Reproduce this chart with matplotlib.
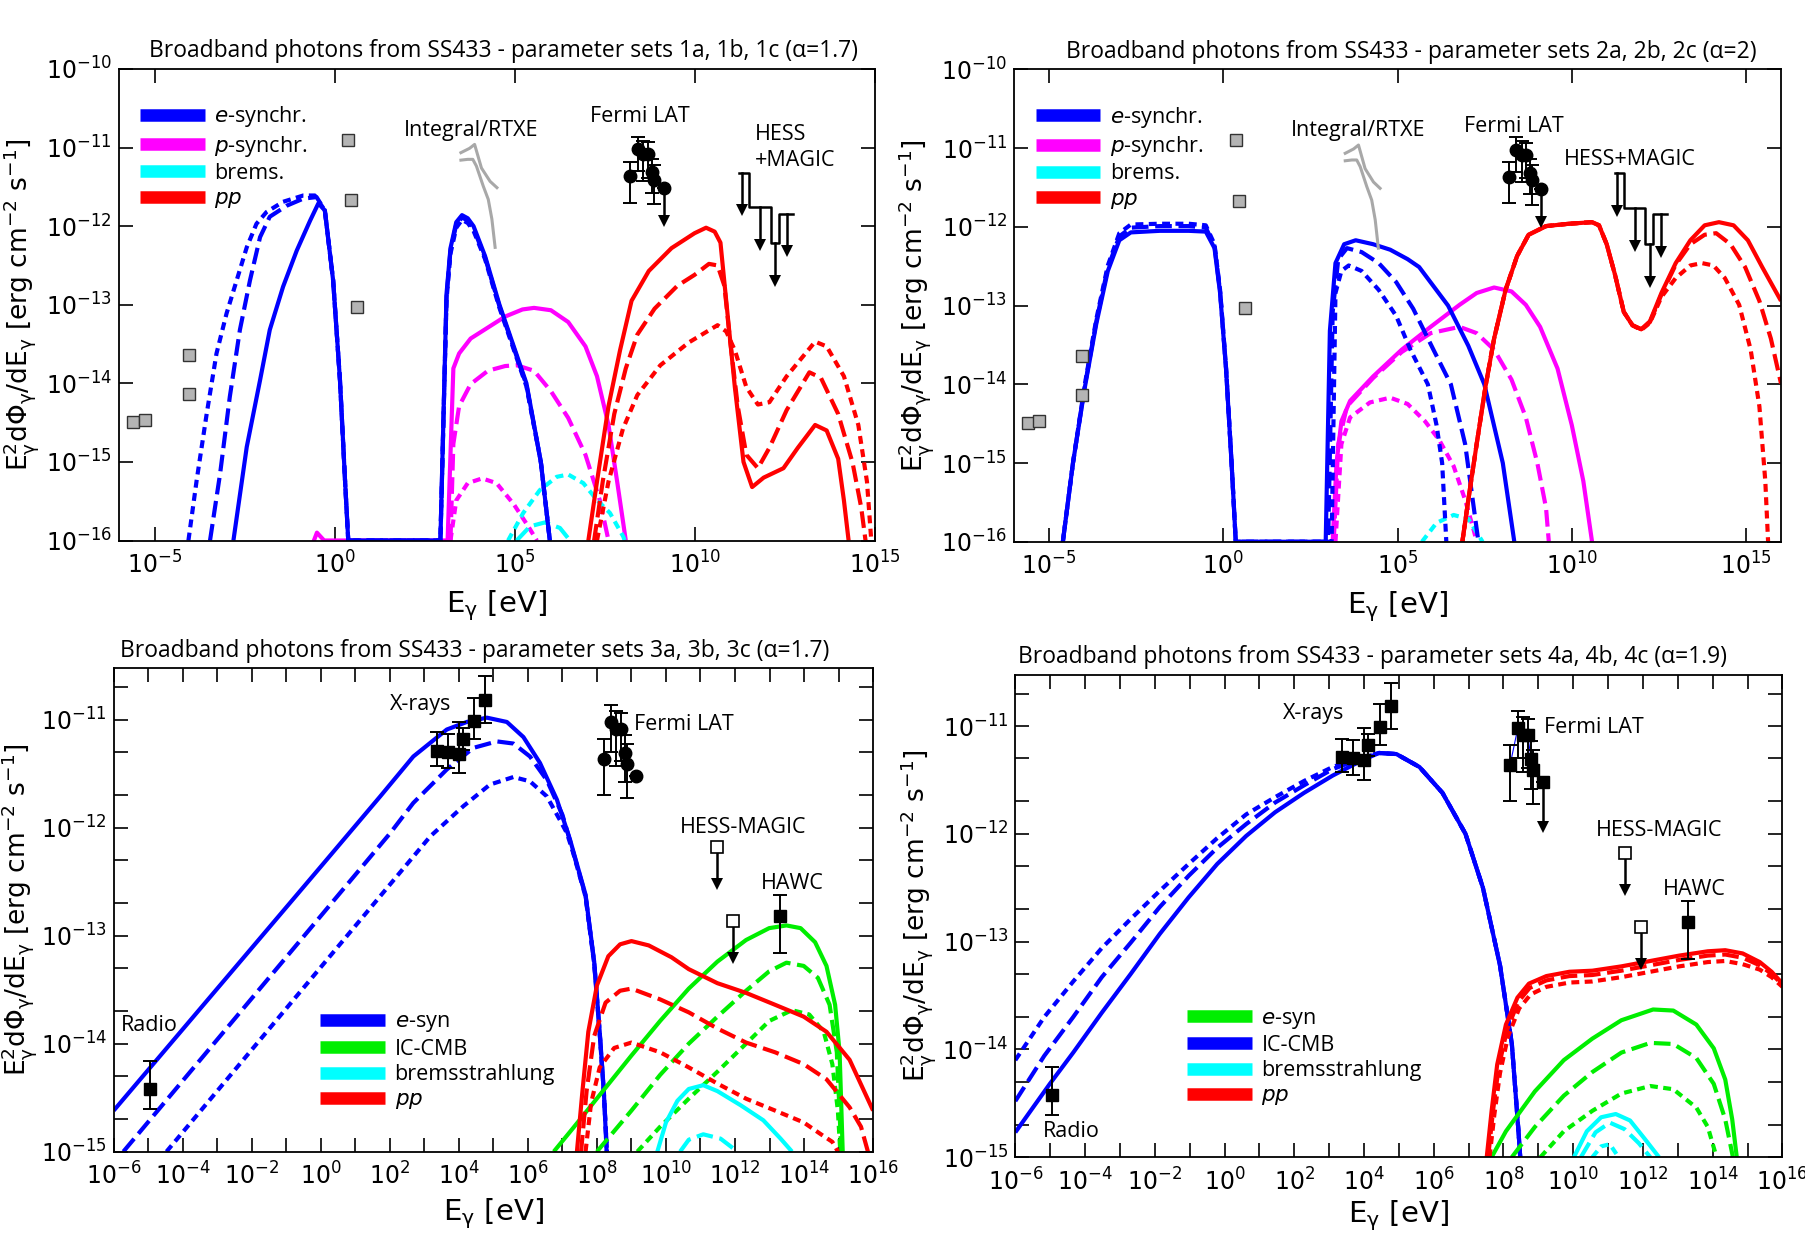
import numpy as np
import matplotlib
matplotlib.use('Agg')
import matplotlib.pyplot as plt
from matplotlib.lines import Line2D
from matplotlib.ticker import FixedLocator, NullLocator, NullFormatter

plt.rcParams['font.family'] = ['DejaVu Sans']
plt.rcParams['mathtext.fontset'] = 'dejavusans'
plt.rcParams['mathtext.default'] = 'regular'

# ---- data: [log10 E/eV, log10 flux] ----
# panel 1 (alpha = 1.7, sets 1a/1b/1c)
p1_esyn_solid = [[-2.82, -16], [-2.45, -14.81], [-2.08, -13.96], [-1.81, -13.32], [-1.44, -12.77], [-1.06, -12.31],
                 [-0.69, -11.93], [-0.46, -11.71], [-0.28, -11.80], [-0.05, -12.69], [0.14, -13.96], [0.28, -15.23],
                 [0.37, -16], [2.93, -16], [3.10, -12.86], [3.21, -12.28], [3.37, -11.95],
                 [3.53, -11.86], [3.69, -11.90], [3.85, -12.0], [4.17, -12.38], [4.57, -13.0], [5.32, -14.0],
                 [5.72, -15.0], [5.97, -16]]
p1_esyn_dash = [[-3.47, -16], [-3.19, -15.15], [-2.92, -14.17], [-2.64, -13.32], [-2.36, -12.69], [-2.08, -12.14],
                [-1.81, -11.88], [-1.34, -11.74], [-0.88, -11.65], [-0.51, -11.63], [-0.28, -11.80], [-0.05, -12.69],
                [0.14, -13.96], [0.28, -15.23], [0.37, -16],
                [2.93, -16], [3.10, -12.90], [3.21, -12.31], [3.37, -11.98], [3.53, -11.89], [3.69, -11.93],
                [3.85, -12.03], [4.17, -12.40], [4.57, -13.02], [5.32, -14.02], [5.72, -15.0], [5.97, -16]]
p1_esyn_dot = [[-4.07, -16], [-3.84, -15.23], [-3.56, -14.38], [-3.29, -13.62], [-3.01, -13.11], [-2.73, -12.69],
               [-2.45, -12.27], [-2.18, -11.97], [-1.90, -11.82], [-1.44, -11.69], [-0.88, -11.61], [-0.56, -11.61],
               [-0.28, -11.80], [-0.05, -12.69], [0.14, -13.96], [0.28, -15.23], [0.37, -16],
               [2.93, -16], [3.10, -12.94], [3.21, -12.35], [3.37, -12.02], [3.53, -11.92],
               [3.69, -11.96], [3.85, -12.06], [4.17, -12.42], [4.57, -13.04], [5.32, -14.04], [5.72, -15.0],
               [5.97, -16]]
p1_psyn_solid = [[-0.75, -16.2], [-0.50, -15.9], [-0.30, -16], [3.13, -16], [3.29, -13.81], [3.45, -13.62],
                 [3.77, -13.43], [4.25, -13.29], [4.73, -13.15], [5.21, -13.06], [5.53, -13.04], [6.00, -13.07],
                 [6.48, -13.22], [6.96, -13.53], [7.28, -13.91], [7.60, -14.53], [7.84, -15.25], [8.08, -16]]
p1_psyn_dash = [[3.21, -16], [3.29, -14.77], [3.45, -14.29], [3.77, -14.01], [4.25, -13.84], [4.73, -13.78],
                [5.05, -13.77], [5.53, -13.84], [6.00, -14.10], [6.48, -14.44], [6.96, -14.91], [7.36, -15.49],
                [7.60, -16]]
p1_psyn_dot = [[3.21, -16], [3.37, -15.49], [3.69, -15.27], [4.09, -15.21], [4.49, -15.27], [4.97, -15.54],
               [5.37, -15.82], [5.61, -16]]
p1_brems_dash = [[5.05, -16], [5.42, -15.82], [5.83, -15.77], [6.25, -15.84], [6.53, -16]]
p1_brems_dot = [[4.81, -16], [5.23, -15.65], [5.69, -15.36], [6.16, -15.19], [6.48, -15.16], [6.90, -15.27],
                [7.27, -15.48], [7.64, -15.65], [8.01, -15.95], [8.05, -16]]
p1_pp_solid = [[7.04, -16], [7.28, -15.25], [7.60, -14.29], [7.92, -13.58], [8.24, -12.95], [8.72, -12.57],
               [9.35, -12.28], [9.99, -12.09], [10.31, -12.02], [10.55, -12.07], [10.71, -12.21], [10.87, -12.95],
               [11.11, -14.05], [11.35, -15.0], [11.59, -15.32], [11.91, -15.20], [12.46, -15.08], [12.86, -14.82],
               [13.34, -14.53], [13.66, -14.60], [13.98, -14.96], [14.14, -15.49], [14.27, -16]]
p1_pp_dash = [[7.20, -16], [7.44, -15.25], [7.76, -14.39], [8.08, -13.81], [8.40, -13.38], [8.88, -13.05],
              [9.51, -12.76], [9.99, -12.62], [10.39, -12.48], [10.63, -12.50], [10.82, -12.76], [10.95, -13.34],
              [11.19, -14.29], [11.43, -14.91], [11.75, -15.08], [12.07, -14.82], [12.55, -14.34], [13.18, -13.86],
              [13.50, -13.93], [13.98, -14.39], [14.38, -15.01], [14.62, -15.58], [14.74, -16]]
p1_pp_dot = [[7.28, -16], [7.60, -15.25], [8.00, -14.58], [8.40, -14.15], [9.04, -13.77], [9.83, -13.48],
             [10.63, -13.26], [10.87, -13.34], [11.11, -13.58], [11.43, -14.05], [11.75, -14.27], [12.07, -14.24],
             [12.55, -13.91], [13.34, -13.47], [13.66, -13.53], [14.14, -13.91], [14.54, -14.53], [14.78, -15.25],
             [14.90, -16]]

# panel 2 (alpha = 2, sets 2a/2b/2c)
p2_esyn_solid = [[-4.60, -16], [-4.31, -15.0], [-3.97, -14.04], [-3.64, -13.23], [-3.31, -12.56], [-2.98, -12.17],
                 [-2.65, -12.07], [-1.82, -12.05], [-0.99, -12.05], [-0.50, -12.06], [-0.25, -12.27],
                 [-0.09, -12.84], [0.08, -13.80], [0.24, -15.0], [0.36, -16], [2.94, -16], [3.06, -13.32],
                 [3.22, -12.46], [3.47, -12.22], [3.80, -12.17], [4.30, -12.22], [4.79, -12.29], [5.29, -12.41],
                 [5.62, -12.51], [6.45, -13.0], [7.03, -13.51], [7.49, -14.0], [8.02, -15.0], [8.35, -16]]
p2_esyn_dash = [[-4.60, -16], [-4.31, -15.0], [-3.97, -14.02], [-3.64, -13.20], [-3.31, -12.52], [-2.98, -12.12],
                [-2.65, -12.01], [-1.82, -11.99], [-0.99, -11.99], [-0.50, -12.01], [-0.25, -12.24],
                [-0.09, -12.82], [0.08, -13.79], [0.24, -15.0], [0.36, -16], [3.01, -16], [3.14, -13.08],
                [3.30, -12.41], [3.55, -12.27], [3.97, -12.32], [4.46, -12.46], [4.96, -12.70], [5.45, -13.04],
                [6.03, -13.56], [6.53, -14.0], [6.94, -14.76], [7.32, -16]]
p2_esyn_dot = [[-4.60, -16], [-4.31, -15.0], [-3.97, -14.0], [-3.64, -13.17], [-3.31, -12.49], [-2.98, -12.08],
               [-2.65, -11.97], [-1.82, -11.96], [-0.99, -11.96], [-0.50, -11.98], [-0.25, -12.22],
               [-0.09, -12.80], [0.08, -13.78], [0.24, -15.0], [0.36, -16], [3.11, -16], [3.22, -12.84],
               [3.39, -12.56], [3.60, -12.49], [3.97, -12.56], [4.46, -12.80], [4.96, -13.13], [5.37, -13.56],
               [5.87, -14.0], [6.12, -14.52], [6.28, -15.0], [6.40, -16]]
p2_psyn_solid = [[3.14, -16], [3.25, -15.0], [3.39, -14.47], [3.64, -14.21], [4.30, -13.90], [5.12, -13.56],
                 [5.95, -13.27], [6.78, -12.99], [7.27, -12.84], [7.77, -12.77], [8.27, -12.82], [8.68, -12.99],
                 [9.09, -13.27], [9.59, -13.80], [10.0, -14.52], [10.33, -15.23], [10.58, -16]]
p2_psyn_dash = [[3.17, -16], [3.30, -14.76], [3.55, -14.28], [4.30, -13.92], [5.12, -13.59], [5.95, -13.35],
                [6.78, -13.27], [7.27, -13.35], [7.77, -13.56], [8.27, -13.94], [8.68, -14.42], [9.01, -15.0],
                [9.26, -15.57], [9.34, -16]]
p2_psyn_dot = [[3.22, -16], [3.39, -14.76], [3.64, -14.42], [4.21, -14.23], [4.79, -14.17], [5.29, -14.25],
               [5.79, -14.47], [6.20, -14.71], [6.61, -15.04], [6.94, -15.47], [7.19, -15.86], [7.27, -16]]
p2_brems_dot = [[5.70, -16], [6.12, -15.76], [6.61, -15.66], [7.03, -15.71], [7.44, -16]]
p2_pp_solid = [[6.86, -16], [7.03, -15.47], [7.27, -14.76], [7.52, -14.04], [7.77, -13.42], [8.10, -12.80],
               [8.43, -12.37], [8.76, -12.10], [9.26, -11.99], [9.92, -11.96], [10.58, -11.94], [10.78, -11.98],
               [11.0, -12.22], [11.24, -12.61], [11.49, -13.08], [11.74, -13.25], [11.99, -13.30], [12.24, -13.20],
               [12.57, -12.84], [12.98, -12.46], [13.40, -12.17], [13.81, -11.98], [14.22, -11.94], [14.64, -11.98],
               [15.05, -12.17], [15.46, -12.51], [16.0, -12.94]]
p2_pp_dash = [[6.86, -16], [7.03, -15.47], [7.27, -14.76], [7.52, -14.04], [7.77, -13.42], [8.10, -12.80],
              [8.43, -12.37], [8.76, -12.10], [9.26, -11.99], [9.92, -11.96], [10.58, -11.94], [10.78, -11.98],
              [11.0, -12.22], [11.24, -12.61], [11.49, -13.08], [11.74, -13.25], [11.99, -13.30], [12.24, -13.21],
              [12.57, -12.86], [12.98, -12.48], [13.40, -12.22], [13.81, -12.10], [14.14, -12.08], [14.55, -12.22],
              [14.97, -12.51], [15.38, -12.94], [15.71, -13.42], [16.0, -13.99]]
p2_pp_dot = [[6.86, -16], [7.03, -15.47], [7.27, -14.76], [7.52, -14.04], [7.77, -13.42], [8.10, -12.80],
             [8.43, -12.37], [8.76, -12.10], [9.26, -11.99], [9.92, -11.96], [10.58, -11.94], [10.78, -11.98],
             [11.0, -12.22], [11.24, -12.61], [11.49, -13.08], [11.74, -13.25], [11.99, -13.31], [12.24, -13.22],
             [12.57, -12.89], [12.98, -12.65], [13.40, -12.49], [13.73, -12.46], [14.06, -12.49], [14.39, -12.65],
             [14.80, -12.99], [15.13, -13.56], [15.38, -14.28], [15.55, -15.23], [15.63, -16]]

# panel 3 (alpha = 1.7, sets 3a/3b/3c)
p3_esyn_solid = [[-6.0, -14.62], [0.0, -12.36], [1.72, -11.71], [2.68, -11.34], [3.65, -11.09], [4.23, -11.02],
                 [4.81, -10.98], [5.39, -11.02], [5.87, -11.16], [6.35, -11.40], [6.84, -11.74], [7.22, -12.11],
                 [7.67, -12.62], [7.92, -13.24], [8.08, -13.89], [8.20, -14.44], [8.28, -15.0]]
p3_esyn_dash = [[-5.72, -15.0], [2.01, -12.05], [2.68, -11.77], [3.65, -11.46], [4.42, -11.26], [5.10, -11.20],
                [5.58, -11.22], [6.06, -11.34], [6.55, -11.56], [7.00, -11.88], [7.22, -12.12], [7.67, -12.63],
                [7.92, -13.25], [8.08, -13.90], [8.20, -14.45], [8.29, -15.0]]
p3_esyn_dot = [[-4.47, -15.0], [3.17, -12.08], [4.13, -11.80], [4.90, -11.60], [5.58, -11.53], [6.06, -11.57],
               [6.55, -11.71], [6.93, -11.93], [7.13, -12.05], [7.30, -12.22], [7.67, -12.64], [7.92, -13.26],
               [8.08, -13.91], [8.20, -14.46], [8.29, -15.0]]
p3_ic_solid = [[6.75, -15.0], [7.34, -14.77], [8.17, -14.44], [9.0, -14.11], [9.83, -13.79], [10.66, -13.49],
               [11.49, -13.24], [12.32, -13.04], [12.99, -12.93], [13.49, -12.905], [13.90, -12.93], [14.32, -13.06],
               [14.65, -13.28], [14.90, -13.64], [15.03, -14.08], [15.12, -15.0]]
p3_ic_dash = [[8.0, -15.0], [9.0, -14.62], [9.83, -14.29], [10.66, -14.0], [11.49, -13.75], [12.32, -13.51],
              [12.99, -13.33], [13.49, -13.25], [13.99, -13.28], [14.40, -13.39], [14.74, -13.64], [14.95, -14.08],
              [15.08, -15.0]]
p3_ic_dot = [[9.17, -15.0], [9.83, -14.77], [10.66, -14.51], [11.49, -14.26], [12.32, -14.0], [12.99, -13.79],
             [13.65, -13.69], [14.15, -13.73], [14.57, -13.89], [14.82, -14.19], [14.98, -14.62], [15.05, -15.0]]
p3_brems_solid = [[9.75, -15.0], [10.0, -14.73], [10.33, -14.53], [10.66, -14.42], [11.08, -14.385], [11.49, -14.44],
                  [12.16, -14.57], [12.82, -14.71], [13.32, -14.88], [13.65, -15.0]]
p3_brems_dash = [[10.41, -15.0], [10.66, -14.89], [11.08, -14.84], [11.58, -14.88], [12.07, -15.0]]
p3_pp_solid = [[7.42, -15.0], [7.58, -14.44], [7.75, -13.89], [8.0, -13.46], [8.33, -13.19], [8.67, -13.08],
               [9.0, -13.05], [9.50, -13.09], [10.16, -13.20], [10.66, -13.31], [11.49, -13.44], [12.32, -13.53],
               [13.16, -13.64], [13.99, -13.75], [14.65, -13.89], [15.32, -14.15], [16.0, -14.62]]
p3_pp_dash = [[7.54, -15.0], [7.70, -14.44], [7.92, -13.93], [8.25, -13.62], [8.67, -13.51], [9.0, -13.49],
              [9.83, -13.59], [10.66, -13.71], [11.49, -13.86], [12.32, -13.99], [13.16, -14.08], [13.99, -14.19],
              [14.65, -14.33], [15.32, -14.59], [15.65, -14.77], [15.85, -15.0]]
p3_pp_dot = [[7.67, -15.0], [7.83, -14.55], [8.08, -14.22], [8.50, -14.04], [9.0, -13.99], [9.83, -14.08],
             [10.66, -14.22], [11.49, -14.37], [12.32, -14.51], [13.16, -14.62], [13.99, -14.73], [14.49, -14.84],
             [14.82, -14.91], [14.98, -15.0]]

# panel 4 (alpha = 1.9, sets 4a/4b/4c)
p4_ic_solid = [[-6.0, -14.77], [-5.01, -14.32], [-4.34, -14.03], [-3.52, -13.66], [-2.69, -13.30], [-1.86, -12.93],
               [-1.03, -12.59], [-0.21, -12.28], [0.62, -12.02], [1.45, -11.80], [2.28, -11.62], [3.10, -11.46],
               [3.93, -11.32], [4.43, -11.25], [4.93, -11.26], [5.59, -11.38], [6.25, -11.62], [6.91, -12.0],
               [7.41, -12.50], [7.90, -13.22], [8.24, -13.95], [8.43, -14.76], [8.48, -15.0]]
p4_ic_dash = [[-6.0, -14.48], [-5.17, -14.06], [-4.34, -13.70], [-3.52, -13.33], [-2.69, -13.01], [-1.86, -12.68],
              [-1.03, -12.39], [-0.21, -12.13], [0.62, -11.91], [1.45, -11.71], [2.28, -11.55], [3.10, -11.40],
              [3.93, -11.30], [4.43, -11.25], [4.93, -11.26], [5.59, -11.38], [6.25, -11.62], [6.91, -12.0],
              [7.41, -12.50], [7.90, -13.22], [8.24, -13.95], [8.43, -14.76], [8.48, -15.0]]
p4_ic_dot = [[-6.0, -14.10], [-5.17, -13.70], [-4.34, -13.37], [-3.52, -13.06], [-2.69, -12.79], [-1.86, -12.53],
             [-1.03, -12.28], [-0.21, -12.04], [0.62, -11.82], [1.45, -11.66], [2.28, -11.51], [3.10, -11.38],
             [3.93, -11.29], [4.43, -11.25], [4.93, -11.26], [5.59, -11.38], [6.25, -11.62], [6.91, -12.0],
             [7.41, -12.50], [7.90, -13.22], [8.24, -13.95], [8.43, -14.76], [8.48, -15.0]]
p4_esyn_solid = [[7.66, -15.0], [8.07, -14.76], [8.90, -14.39], [9.73, -14.10], [10.55, -13.90], [11.38, -13.73],
                 [12.29, -13.63], [12.87, -13.64], [13.53, -13.77], [14.03, -13.99], [14.36, -14.28],
                 [14.56, -14.65], [14.69, -15.0]]
p4_esyn_dash = [[8.24, -15.0], [8.90, -14.72], [9.73, -14.43], [10.55, -14.21], [11.38, -14.03], [12.21, -13.94],
                [12.87, -13.95], [13.53, -14.08], [14.03, -14.32], [14.36, -14.65], [14.58, -15.0]]
p4_esyn_dot = [[9.06, -15.0], [9.73, -14.76], [10.55, -14.57], [11.38, -14.41], [12.21, -14.34], [12.87, -14.37],
               [13.53, -14.54], [13.86, -14.72], [14.11, -15.0]]
p4_brems_solid = [[10.02, -15.0], [10.39, -14.76], [10.80, -14.63], [11.22, -14.60], [11.63, -14.66],
                  [12.05, -14.83], [12.46, -15.0]]
p4_brems_dash = [[10.22, -15.0], [10.64, -14.77], [11.05, -14.68], [11.47, -14.74], [11.88, -14.87], [12.21, -15.0]]
p4_brems_dot = [[10.55, -15.0], [10.80, -14.90], [11.05, -14.88], [11.30, -15.0]]
p4_pp_solid = [[7.52, -15.0], [7.66, -14.57], [7.82, -14.14], [8.07, -13.77], [8.40, -13.52], [8.73, -13.39],
               [9.23, -13.32], [9.89, -13.28], [10.55, -13.27], [11.38, -13.23], [12.21, -13.18], [13.04, -13.13],
               [13.86, -13.09], [14.36, -13.08], [14.86, -13.11], [15.35, -13.19], [15.69, -13.28], [16.0, -13.39]]
p4_pp_dash = [[7.56, -15.0], [7.70, -14.57], [7.86, -14.17], [8.10, -13.82], [8.42, -13.56], [8.75, -13.43],
              [9.23, -13.36], [9.89, -13.32], [10.55, -13.31], [11.38, -13.27], [12.21, -13.22], [13.04, -13.17],
              [13.86, -13.13], [14.36, -13.12], [14.86, -13.15], [15.35, -13.22], [15.69, -13.30], [16.0, -13.40]]
p4_pp_dot = [[7.60, -15.0], [7.74, -14.60], [7.90, -14.22], [8.13, -13.88], [8.45, -13.62], [8.78, -13.49],
             [9.23, -13.42], [9.89, -13.38], [10.55, -13.37], [11.38, -13.33], [12.21, -13.28], [13.04, -13.23],
             [13.86, -13.19], [14.36, -13.18], [14.86, -13.21], [15.35, -13.26], [15.69, -13.33], [16.0, -13.42]]

# observations
grey_logE = [-5.60, -5.27, -4.05, -4.05, 0.36, 0.46, 0.62]
grey_logF = [-14.49, -14.47, -14.14, -13.64, -10.90, -11.67, -13.03]
integral_upper = [[3.50, -11.065], [3.74, -11.01], [3.88, -10.96], [4.07, -11.26], [4.31, -11.43], [4.50, -11.51]]
integral_lower = [[3.50, -11.16], [3.69, -11.15], [3.83, -11.15], [3.93, -11.235], [4.12, -11.49], [4.26, -11.66],
                  [4.36, -11.91], [4.45, -12.27]]
fermi_logE = [8.19, 8.41, 8.56, 8.69, 8.80, 8.86, 9.13]
fermi_logF = [-11.36, -11.02, -11.085, -11.085, -11.31, -11.41, -11.52]
fermi_up = [0.18, 0.16, 0.17, 0.15, 0.17, 0.19, 0.0]
fermi_dn = [0.34, 0.28, 0.34, 0.30, 0.27, 0.31, 0.0]
hm_edges = [11.23, 11.49, 12.11, 12.34, 12.72]
hm_ul = [-11.32, -11.76, -12.22, -11.84]
hm_arrow_logE = [11.31, 11.82, 12.23, 12.55]
xray_logE = [3.38, 3.68, 4.01, 4.11, 4.45, 4.76]
xray_logF = [-11.286, -11.30, -11.317, -11.178, -11.008, -10.817]
xray_up = [0.17, 0.17, 0.30, 0.10, 0.21, 0.22]
xray_dn = [0.14, 0.15, 0.18, 0.10, 0.17, 0.21]
radio_logE, radio_logF, radio_up, radio_dn = -4.94, -14.42, 0.26, 0.19
hessmagic_logE = [11.49, 11.93]
hessmagic_logF = [-12.18, -12.865]
hawc_logE, hawc_logF, hawc_up, hawc_dn = 13.30, -12.82, 0.20, 0.34

BLUE, MAG, CYAN, RED, GREEN = '#0000ff', '#ff00ff', '#00ffff', '#ff0000', '#00ee00'
DASH = {'solid': None, 'dashed': (4.0, 1.6), 'dotted': (1.9, 1.3)}
LW = 3.0
TXT = ['Open Sans', 'DejaVu Sans']


def curve(ax, pts, color, style):
    a = np.array(pts, dtype=float)
    line, = ax.plot(10 ** a[:, 0], 10 ** a[:, 1], color=color, lw=LW, solid_capstyle='butt')
    if DASH[style] is not None:
        line.set_dashes(DASH[style])
        line.set_dash_capstyle('butt')


def arrow_down(ax, logx, logy0, logy1, lw=1.8):
    ax.plot([10 ** logx] * 2, [10 ** logy0, 10 ** logy1], color='k', lw=lw)
    ax.plot(10 ** logx, 10 ** logy1, marker='v', color='k', ms=9, mew=0)


def fermi(ax, marker, arrow):
    e = np.array(fermi_logE)
    f = np.array(fermi_logF)
    y = 10 ** f
    err = [y - 10 ** (f - np.array(fermi_dn)), 10 ** (f + np.array(fermi_up)) - y]
    ax.errorbar(10 ** e, y, yerr=err, fmt=marker, color='k', ms=9, capsize=5, elinewidth=1.4, capthick=1.4)
    if arrow:
        arrow_down(ax, e[-1], f[-1], f[-1] - 0.42)


def setup(ax, top, ylab_x, xpad):
    ax.set_xscale('log')
    ax.set_yscale('log')
    ax.tick_params(which='both', direction='in', top=True, right=True, length=10, width=1.2, labelsize=17)
    ax.tick_params(axis='x', pad=8)
    ax.tick_params(axis='y', pad=5)
    for s in ax.spines.values():
        s.set_linewidth(1.3)
    if top:
        ax.xaxis.set_major_locator(FixedLocator([1e-5, 1e0, 1e5, 1e10, 1e15]))
        ax.xaxis.set_minor_locator(NullLocator())
        ax.yaxis.set_major_locator(FixedLocator([10.0 ** k for k in range(-16, -9)]))
        ax.yaxis.set_minor_locator(NullLocator())
        ax.set_ylim(1e-16, 1e-10)
    else:
        ax.set_xlim(1e-6, 1e16)
        ax.set_ylim(1e-15, 3e-11)
        ax.xaxis.set_major_locator(FixedLocator([10.0 ** k for k in range(-6, 17, 2)]))
        ax.xaxis.set_minor_locator(FixedLocator([10.0 ** k for k in range(-5, 16, 2)]))
        ax.xaxis.set_minor_formatter(NullFormatter())
        ax.yaxis.set_major_locator(FixedLocator([10.0 ** k for k in range(-15, -10)]))
        ax.yaxis.set_minor_locator(FixedLocator([m * 10.0 ** k for k in range(-15, -10) for m in (2, 5)]))
        ax.yaxis.set_minor_formatter(NullFormatter())
    ax.set_xlabel(r'E$_\gamma$ [eV]', fontsize=21, labelpad=xpad)
    ax.set_ylabel(r'E$^2_\gamma$d$\Phi_\gamma$/dE$_\gamma$ [erg cm$^{-2}$ s$^{-1}$]', fontsize=19)
    ax.yaxis.set_label_coords(ylab_x, 0.5)


def legend(ax, labels, colors, anchor):
    handles = [Line2D([], [], color=c, lw=9, solid_capstyle='butt') for c in colors]
    ax.legend(handles, labels, loc='upper left', bbox_to_anchor=anchor, frameon=False, borderpad=0,
              borderaxespad=0, handlelength=3.0, handletextpad=0.45, labelspacing=0.2,
              prop={'family': TXT, 'size': 15.5})


def note(ax, logx, logy, s, ha='center'):
    ax.text(10 ** logx, 10 ** logy, s, ha=ha, va='center', fontsize=15.5, family=TXT)


def title(ax, x, s):
    ax.text(x, 1.012, s, transform=ax.transAxes, ha='center', va='bottom', fontsize=16.5, family=TXT)


fig = plt.figure(figsize=(18.05, 12.36), dpi=100)
ax1 = fig.add_axes([0.0659, 0.5627, 0.4188, 0.3815])
ax2 = fig.add_axes([0.5618, 0.5617, 0.4249, 0.3821])
ax3 = fig.add_axes([0.0630, 0.0683, 0.4207, 0.3910])
ax4 = fig.add_axes([0.5625, 0.0638, 0.4250, 0.3904])

# ---------------- panel 1 ----------------
for pts, st in [(p1_psyn_solid, 'solid'), (p1_psyn_dash, 'dashed'), (p1_psyn_dot, 'dotted')]:
    curve(ax1, pts, MAG, st)
for pts, st in [(p1_brems_dash, 'dashed'), (p1_brems_dot, 'dotted')]:
    curve(ax1, pts, CYAN, st)
for pts, st in [(p1_esyn_solid, 'solid'), (p1_esyn_dash, 'dashed'), (p1_esyn_dot, 'dotted')]:
    curve(ax1, pts, BLUE, st)
for pts, st in [(p1_pp_solid, 'solid'), (p1_pp_dash, 'dashed'), (p1_pp_dot, 'dotted')]:
    curve(ax1, pts, RED, st)

# ---------------- panel 2 ----------------
for pts, st in [(p2_psyn_solid, 'solid'), (p2_psyn_dash, 'dashed'), (p2_psyn_dot, 'dotted')]:
    curve(ax2, pts, MAG, st)
curve(ax2, p2_brems_dot, CYAN, 'dotted')
for pts, st in [(p2_esyn_solid, 'solid'), (p2_esyn_dash, 'dashed'), (p2_esyn_dot, 'dotted')]:
    curve(ax2, pts, BLUE, st)
for pts, st in [(p2_pp_solid, 'solid'), (p2_pp_dash, 'dashed'), (p2_pp_dot, 'dotted')]:
    curve(ax2, pts, RED, st)

top_titles = ['Broadband photons from SS433 - parameter sets 1a, 1b, 1c (\u03b1=1.7)',
              'Broadband photons from SS433 - parameter sets 2a, 2b, 2c (\u03b1=2)']
for ax, xmax, tx, tt, lx in [(ax1, 1e15, 0.509, top_titles[0], -0.103),
                             (ax2, 1e16, 0.518, top_titles[1], -0.102)]:
    setup(ax, True, lx, 7)
    ax.set_xlim(1e-6, xmax)
    ax.plot(10 ** np.array(grey_logE), 10 ** np.array(grey_logF), 's', ms=8.5, mfc='#b4b4b4', mec='#333333',
            mew=1.0, ls='none')
    for path in (integral_upper, integral_lower):
        a = np.array(path)
        ax.plot(10 ** a[:, 0], 10 ** a[:, 1], color='#a8a8a8', lw=2.2)
    fermi(ax, 'o', True)
    edges = np.array(hm_edges)
    ul = np.array(hm_ul + [hm_ul[-1]])
    ax.step(10 ** edges, 10 ** ul, where='post', color='k', lw=1.8)
    for xe, ye in zip(hm_arrow_logE, hm_ul):
        arrow_down(ax, xe, ye, ye - 0.48)
    legend(ax, [r'$\mathit{e}$-synchr.', r'$\mathit{p}$-synchr.', 'brems.', r'$\mathit{pp}$'],
           [BLUE, MAG, CYAN, RED], (0.028, 0.925))
    title(ax, tx, tt)

note(ax1, 3.77, -10.78, 'Integral/RTXE')
note(ax1, 8.48, -10.60, 'Fermi LAT')
note(ax1, 11.67, -10.84, 'HESS', ha='left')
note(ax1, 11.67, -11.16, '+MAGIC', ha='left')
note(ax2, 3.88, -10.78, 'Integral/RTXE')
note(ax2, 8.35, -10.72, 'Fermi LAT')
note(ax2, 11.66, -11.14, 'HESS+MAGIC')

# ---------------- panel 3 ----------------
for pts, st in [(p3_esyn_solid, 'solid'), (p3_esyn_dash, 'dashed'), (p3_esyn_dot, 'dotted')]:
    curve(ax3, pts, BLUE, st)
for pts, st in [(p3_ic_solid, 'solid'), (p3_ic_dash, 'dashed'), (p3_ic_dot, 'dotted')]:
    curve(ax3, pts, GREEN, st)
for pts, st in [(p3_brems_solid, 'solid'), (p3_brems_dash, 'dashed')]:
    curve(ax3, pts, CYAN, st)
for pts, st in [(p3_pp_solid, 'solid'), (p3_pp_dash, 'dashed'), (p3_pp_dot, 'dotted')]:
    curve(ax3, pts, RED, st)

# ---------------- panel 4 ----------------
for pts, st in [(p4_ic_solid, 'solid'), (p4_ic_dash, 'dashed'), (p4_ic_dot, 'dotted')]:
    curve(ax4, pts, BLUE, st)
for pts, st in [(p4_esyn_solid, 'solid'), (p4_esyn_dash, 'dashed'), (p4_esyn_dot, 'dotted')]:
    curve(ax4, pts, GREEN, st)
for pts, st in [(p4_brems_solid, 'solid'), (p4_brems_dash, 'dashed'), (p4_brems_dot, 'dotted')]:
    curve(ax4, pts, CYAN, st)
for pts, st in [(p4_pp_solid, 'solid'), (p4_pp_dash, 'dashed'), (p4_pp_dot, 'dotted')]:
    curve(ax4, pts, RED, st)

bottom = [(ax3, 0.476, 'Broadband photons from SS433 - parameter sets 3a, 3b, 3c (\u03b1=1.7)', 'o', False,
           [BLUE, GREEN, CYAN, RED], (0.272, 0.29), -0.098, 5),
          (ax4, 0.466, 'Broadband photons from SS433 - parameter sets 4a, 4b, 4c (\u03b1=1.9)', 's', True,
           [GREEN, BLUE, CYAN, RED], (0.224, 0.31), -0.101, 2)]
for ax, tx, tt, fm, arr, cols, anc, lx, xp in bottom:
    setup(ax, False, lx, xp)
    if fm == 's':
        ax.plot(10 ** np.array(fermi_logE[:6]), 10 ** np.array(fermi_logF[:6]), color=BLUE, lw=0.8)
    fermi(ax, fm, arr)
    xe = np.array(xray_logE)
    xf = np.array(xray_logF)
    y = 10 ** xf
    ax.errorbar(10 ** xe, y, yerr=[y - 10 ** (xf - np.array(xray_dn)), 10 ** (xf + np.array(xray_up)) - y],
                fmt='s', color='k', ms=8.5, capsize=5, elinewidth=1.4, capthick=1.4)
    yr = 10 ** radio_logF
    ax.errorbar([10 ** radio_logE], [yr], yerr=[[yr - 10 ** (radio_logF - radio_dn)], [10 ** (radio_logF + radio_up) - yr]],
                fmt='s', color='k', ms=8.5, capsize=5, elinewidth=1.4, capthick=1.4)
    yh = 10 ** hawc_logF
    ax.errorbar([10 ** hawc_logE], [yh], yerr=[[yh - 10 ** (hawc_logF - hawc_dn)], [10 ** (hawc_logF + hawc_up) - yh]],
                fmt='s', color='k', ms=8.5, capsize=5, elinewidth=1.4, capthick=1.4)
    for he, hf in zip(hessmagic_logE, hessmagic_logF):
        arrow_down(ax, he, hf, hf - 0.34)
        ax.plot(10 ** he, 10 ** hf, 's', ms=8, mfc='white', mec='k', mew=1.2)
    legend(ax, [r'$\mathit{e}$-syn', 'IC-CMB', 'bremsstrahlung', r'$\mathit{pp}$'], cols, anc)
    title(ax, tx, tt)

note(ax3, -5.80, -13.83, 'Radio', ha='left')
note(ax3, 2.90, -10.86, 'X-rays')
note(ax3, 9.08, -11.04, 'Fermi LAT', ha='left')
note(ax3, 12.24, -12.0, 'HESS-MAGIC')
note(ax3, 13.65, -12.52, 'HAWC')
note(ax4, -5.21, -14.76, 'Radio', ha='left')
note(ax4, 2.56, -10.88, 'X-rays')
note(ax4, 9.15, -11.01, 'Fermi LAT', ha='left')
note(ax4, 12.46, -11.97, 'HESS-MAGIC')
note(ax4, 13.48, -12.52, 'HAWC')

fig.savefig('out.png', dpi=100)
